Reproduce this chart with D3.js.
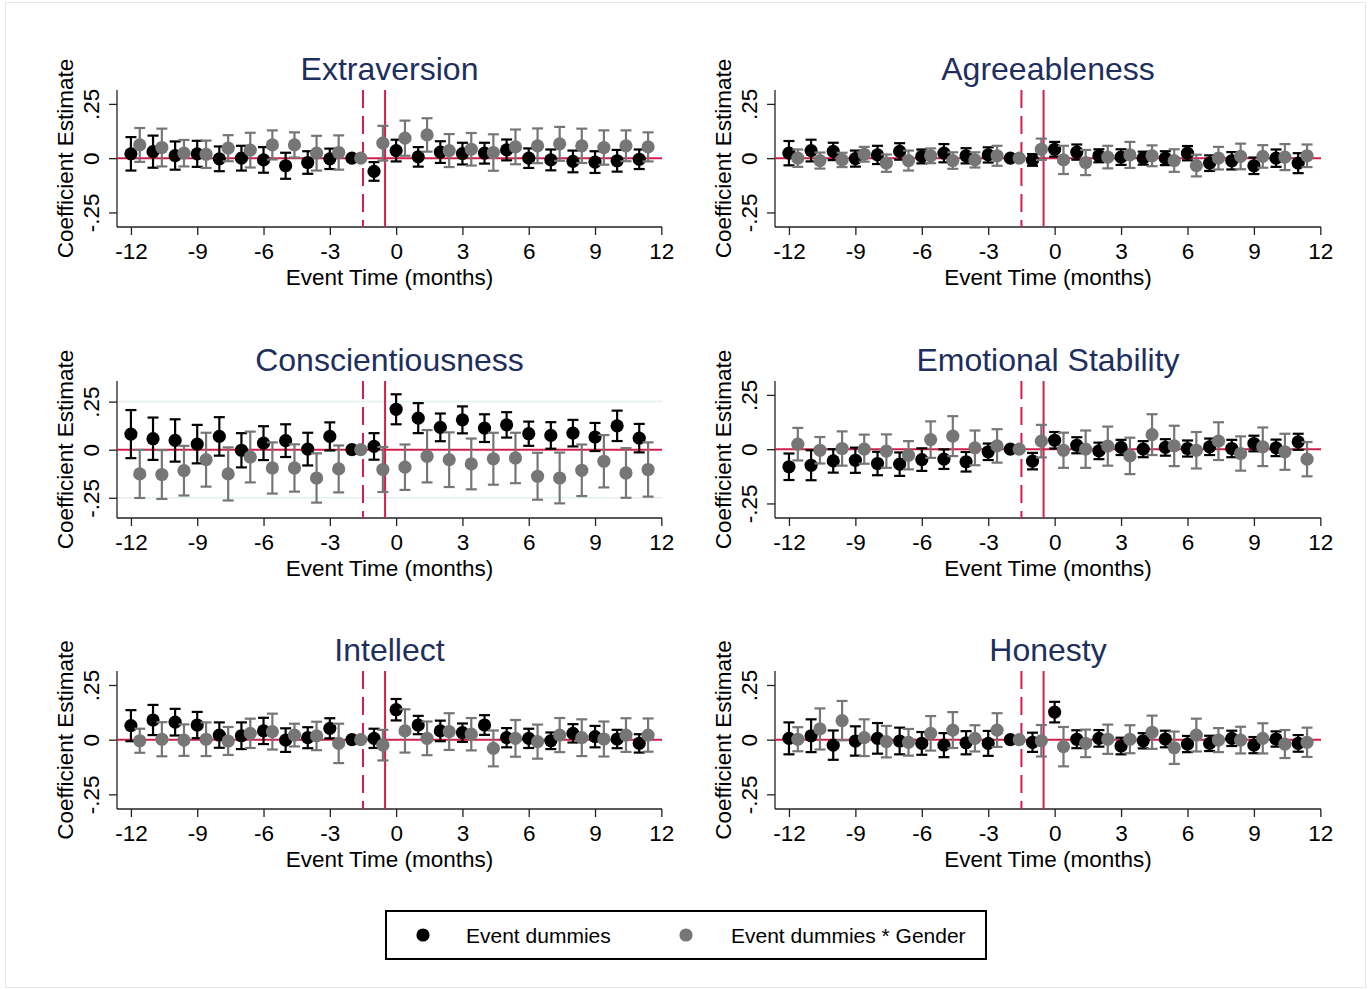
<!DOCTYPE html>
<html>
<head>
<meta charset="utf-8">
<script src="https://cdn.jsdelivr.net/npm/d3@7"></script>
<style>
  html, body { margin: 0; padding: 0; background: #fff; }
  svg { display: block; font-family: "Liberation Sans", Arial, Helvetica, sans-serif; }
</style>
</head>
<body>
<svg id="chart" width="1371" height="990"></svg>
<script>
// ---------- data ----------
const months = [-12,-11,-10,-9,-8,-7,-6,-5,-4,-3,-2,-1,0,1,2,3,4,5,6,7,8,9,10,11];
const xTicks = [-12,-9,-6,-3,0,3,6,9,12];
const xTickLabels = ["-12","-9","-6","-3","0","3","6","9","12"];
const yTicks = [-0.25, 0, 0.25];
const yTickLabels = ["-.25", "0", ".25"];
const titles = ["Extraversion","Agreeableness","Conscientiousness","Emotional Stability","Intellect","Honesty"];
const legendLabels = ["Event dummies", "Event dummies * Gender"];
const eventLines = [-1.5, -0.5];

// Extraversion
const extraBlack   = [0.02,0.03,0.012,0.02,-0.003,0.0,-0.008,-0.035,-0.02,-0.003,0,-0.061,0.035,0.006,0.028,0.021,0.023,0.038,0.0,-0.008,-0.015,-0.018,-0.012,-0.005];
const extraBlackCI = [0.077,0.074,0.065,0.06,0.057,0.057,0.059,0.06,0.052,0.047,null,0.043,0.05,0.045,0.05,0.05,0.048,0.048,0.045,0.048,0.05,0.05,0.05,0.045];
const extraGray    = [0.061,0.049,0.023,0.018,0.046,0.037,0.061,0.061,0.023,0.026,0,0.069,0.092,0.107,0.035,0.041,0.026,0.052,0.057,0.066,0.057,0.049,0.057,0.052];
const extraGrayCI  = [0.078,0.087,0.061,0.063,0.06,0.08,0.067,0.058,0.08,0.079,null,0.08,0.081,0.077,0.076,0.075,0.084,0.08,0.08,0.078,0.079,0.079,0.071,0.067];

// Agreeableness
const agreeBlack   = [0.023,0.035,0.031,-0.002,0.015,0.031,0.008,0.023,0.011,0.015,0,-0.008,0.041,0.028,0.011,0.005,0.0,0.0,0.023,-0.023,-0.012,-0.035,0.0,-0.023];
const agreeBlackCI = [0.056,0.05,0.04,0.037,0.042,0.038,0.032,0.042,0.035,0.035,null,0.027,0.034,0.035,0.03,0.036,0.03,0.032,0.033,0.036,0.04,0.038,0.04,0.046];
const agreeGray    = [0.0,-0.011,-0.008,0.018,-0.023,-0.011,0.011,-0.011,-0.008,0.011,0,0.041,-0.008,-0.02,0.005,0.015,0.011,-0.011,-0.034,0.0,0.008,0.008,0.005,0.011];
const agreeGrayCI  = [0.04,0.037,0.033,0.034,0.04,0.046,0.034,0.038,0.035,0.046,null,0.049,0.065,0.058,0.052,0.06,0.048,0.052,0.05,0.052,0.059,0.052,0.06,0.052];

// Conscientiousness
const consBlack    = [0.081,0.057,0.048,0.029,0.069,-0.003,0.034,0.047,0.003,0.069,0,0.017,0.21,0.164,0.116,0.155,0.112,0.129,0.083,0.074,0.086,0.066,0.124,0.06];
const consBlackCI  = [0.125,0.11,0.11,0.1,0.1,0.089,0.088,0.085,0.085,0.073,null,0.069,0.078,0.078,0.072,0.07,0.072,0.066,0.063,0.069,0.069,0.073,0.079,0.074];
const consGray     = [-0.126,-0.129,-0.109,-0.052,-0.126,-0.038,-0.095,-0.095,-0.147,-0.1,0,-0.103,-0.091,-0.034,-0.052,-0.074,-0.047,-0.043,-0.138,-0.147,-0.107,-0.06,-0.121,-0.103];
const consGrayCI   = [0.125,0.127,0.129,0.14,0.138,0.132,0.133,0.123,0.128,0.122,null,0.117,0.118,0.136,0.142,0.132,0.135,0.131,0.122,0.132,0.134,0.136,0.129,0.141];

// Emotional Stability
const emoBlack     = [-0.081,-0.074,-0.054,-0.051,-0.066,-0.069,-0.048,-0.046,-0.058,-0.012,0,-0.055,0.041,0.018,-0.008,0.008,0.0,0.008,0.003,0.011,0.003,0.026,0.006,0.034];
const emoBlackCI   = [0.061,0.069,0.054,0.058,0.054,0.054,0.052,0.045,0.045,0.038,null,0.038,0.038,0.037,0.038,0.035,0.037,0.038,0.037,0.038,0.04,0.036,0.038,0.037];
const emoGray      = [0.023,-0.005,0.003,0.0,-0.009,-0.028,0.044,0.06,0.006,0.015,0,0.037,-0.005,0.0,0.014,-0.031,0.067,0.015,-0.005,0.037,-0.02,0.011,-0.012,-0.046];
const emoGrayCI    = [0.075,0.061,0.079,0.067,0.077,0.065,0.084,0.092,0.08,0.077,null,0.075,0.081,0.086,0.09,0.084,0.094,0.093,0.084,0.087,0.079,0.089,0.083,0.079];

// Intellect
const intBlack     = [0.064,0.09,0.08,0.067,0.021,0.018,0.04,-0.002,0.009,0.052,0,0.006,0.137,0.067,0.04,0.032,0.067,0.009,0.006,-0.005,0.029,0.014,0.003,-0.017];
const intBlackCI   = [0.071,0.069,0.061,0.06,0.058,0.061,0.06,0.054,0.048,0.046,null,0.044,0.049,0.042,0.047,0.042,0.045,0.044,0.044,0.038,0.042,0.049,0.042,0.042];
const intGray      = [-0.005,0.002,-0.002,0.002,-0.006,0.029,0.037,0.021,0.017,-0.017,0,-0.025,0.04,0.006,0.037,0.025,-0.04,0.006,-0.009,0.021,0.009,0.003,0.021,0.021];
const intGrayCI    = [0.055,0.078,0.072,0.077,0.064,0.067,0.082,0.052,0.065,0.09,null,0.07,0.099,0.077,0.084,0.074,0.082,0.084,0.078,0.078,0.084,0.08,0.077,0.076];

// Honesty
const honBlack     = [0.006,0.018,-0.025,-0.006,0.006,-0.006,-0.017,-0.025,-0.014,-0.017,0,-0.012,0.126,0.002,0.006,-0.029,-0.005,0.003,-0.02,-0.017,0.006,-0.025,0.003,-0.017];
const honBlackCI   = [0.073,0.075,0.067,0.067,0.07,0.061,0.052,0.055,0.053,0.057,null,0.044,0.047,0.041,0.038,0.038,0.035,0.038,0.037,0.035,0.035,0.037,0.035,0.038];
const honGray      = [0.002,0.049,0.087,0.009,-0.009,-0.012,0.029,0.044,0.006,0.044,0,-0.005,-0.032,-0.017,0.002,0.002,0.034,-0.037,0.021,-0.002,-0.002,0.006,-0.02,-0.012];
const honGrayCI    = [0.055,0.094,0.09,0.084,0.072,0.061,0.079,0.082,0.06,0.077,null,0.072,0.09,0.063,0.067,0.064,0.076,0.074,0.075,0.055,0.061,0.069,0.064,0.067];

const blackSeries = [extraBlack, agreeBlack, consBlack, emoBlack, intBlack, honBlack];
const blackCIs    = [extraBlackCI, agreeBlackCI, consBlackCI, emoBlackCI, intBlackCI, honBlackCI];
const graySeries  = [extraGray, agreeGray, consGray, emoGray, intGray, honGray];
const grayCIs     = [extraGrayCI, agreeGrayCI, consGrayCI, emoGrayCI, intGrayCI, honGrayCI];
const yDomains    = [[-0.317,0.314],[-0.317,0.314],[-0.355,0.357],[-0.317,0.314],[-0.317,0.314],[-0.317,0.314]];
const gridPanels  = [false, false, true, false, false, false];

// ---------- layout / style ----------
const grayOffset = 0.4;
const xDomain = [-12.63, 12.03];
const colX = [[117, 662], [775, 1321]];
const rowY = [[90, 227], [381, 518], [671, 809]];
const RED = "#d11f4c", GRAY = "#767676", NAVY = "#1e2f5e", AXIS = "#222";
const R = 6.6, CAP = 5.5;
const AX_FS = 22.5, TITLE_FS = 32, LEG_FS = 21;

const svg = d3.select("#chart");
svg.append("rect").attr("x", 5.5).attr("y", 2.5).attr("width", 1360).attr("height", 985)
  .attr("fill", "none").attr("stroke", "#e6e6e6").attr("stroke-width", 1);

titles.forEach((title, p) => {
  const [x0, x1] = colX[p % 2];
  const [y0, y1] = rowY[Math.floor(p / 2)];
  const x = d3.scaleLinear().domain(xDomain).range([x0, x1]);
  const y = d3.scaleLinear().domain(yDomains[p]).range([y1, y0]);
  const g = svg.append("g");

  if (gridPanels[p]) {
    g.selectAll(".grid").data(yTicks.filter(t => t !== 0)).join("line")
      .attr("x1", x0).attr("x2", x1).attr("y1", d => y(d)).attr("y2", d => y(d))
      .attr("stroke", "#e4eef1").attr("stroke-width", 1.5);
  }

  const xAxis = g.append("g").attr("transform", `translate(0,${y1})`)
    .call(d3.axisBottom(x).tickValues(xTicks).tickSize(8).tickFormat((d, i) => xTickLabels[i]));
  xAxis.select(".domain").attr("stroke", AXIS).attr("stroke-width", 1.3).attr("d", `M${x0},0H${x1}`);
  xAxis.selectAll(".tick line").attr("stroke", AXIS).attr("stroke-width", 1.3);
  xAxis.selectAll(".tick text").attr("font-size", AX_FS).attr("fill", "#000")
    .attr("font-family", "'Liberation Sans', Arial, sans-serif").attr("dy", null).attr("y", 32);

  const yAxis = g.append("g").attr("transform", `translate(${x0},0)`)
    .call(d3.axisLeft(y).tickValues(yTicks).tickSize(8).tickFormat((d, i) => yTickLabels[i]));
  yAxis.select(".domain").attr("stroke", AXIS).attr("stroke-width", 1.3).attr("d", `M0,${y0}V${y1}`);
  yAxis.selectAll(".tick line").attr("stroke", AXIS).attr("stroke-width", 1.3);
  yAxis.selectAll(".tick text").attr("font-size", AX_FS).attr("fill", "#000")
    .attr("font-family", "'Liberation Sans', Arial, sans-serif")
    .attr("x", null).attr("dy", null).attr("text-anchor", "middle")
    .attr("transform", "translate(-18,0) rotate(-90)");

  g.append("text").attr("x", (x0 + x1) / 2).attr("y", y0 - 10).attr("text-anchor", "middle")
    .attr("font-size", TITLE_FS).attr("fill", NAVY).text(title);
  g.append("text").attr("transform", `translate(${x0 - 44},${(y0 + y1) / 2}) rotate(-90)`)
    .attr("text-anchor", "middle").attr("font-size", AX_FS).attr("fill", "#000").text("Coefficient Estimate");
  g.append("text").attr("x", (x0 + x1) / 2).attr("y", y1 + 58).attr("text-anchor", "middle")
    .attr("font-size", AX_FS).attr("fill", "#000").text("Event Time (months)");

  g.append("line").attr("x1", x0).attr("x2", x1).attr("y1", y(0)).attr("y2", y(0))
    .attr("stroke", RED).attr("stroke-width", 2);
  g.append("line").attr("x1", x(eventLines[0])).attr("x2", x(eventLines[0])).attr("y1", y0).attr("y2", y1)
    .attr("stroke", RED).attr("stroke-width", 2).attr("stroke-dasharray", "18,8");
  g.append("line").attr("x1", x(eventLines[1])).attr("x2", x(eventLines[1])).attr("y1", y0).attr("y2", y1)
    .attr("stroke", RED).attr("stroke-width", 2);

  const drawSeries = (vals, cis, off, color) => {
    const data = months.map((m, i) => ({ m: m + off, v: vals[i], c: cis[i] }));
    const withCI = data.filter(d => d.c !== null);
    const bars = g.append("g").attr("stroke", color).attr("stroke-width", 2.2).attr("fill", "none");
    bars.selectAll(".v").data(withCI).join("line")
      .attr("x1", d => x(d.m)).attr("x2", d => x(d.m)).attr("y1", d => y(d.v - d.c)).attr("y2", d => y(d.v + d.c));
    bars.selectAll(".t").data(withCI).join("line")
      .attr("x1", d => x(d.m) - CAP).attr("x2", d => x(d.m) + CAP).attr("y1", d => y(d.v + d.c)).attr("y2", d => y(d.v + d.c));
    bars.selectAll(".b").data(withCI).join("line")
      .attr("x1", d => x(d.m) - CAP).attr("x2", d => x(d.m) + CAP).attr("y1", d => y(d.v - d.c)).attr("y2", d => y(d.v - d.c));
    g.append("g").selectAll("circle").data(data).join("circle")
      .attr("cx", d => x(d.m)).attr("cy", d => y(d.v)).attr("r", R).attr("fill", color);
  };
  drawSeries(blackSeries[p], blackCIs[p], 0, "#000");
  drawSeries(graySeries[p], grayCIs[p], grayOffset, GRAY);
});

// legend
const lg = svg.append("g");
lg.append("rect").attr("x", 386).attr("y", 911).attr("width", 600).attr("height", 48)
  .attr("fill", "#fff").attr("stroke", "#000").attr("stroke-width", 2);
const legendColors = ["#000", GRAY];
const legendDotX = [423, 686];
const legendTextX = [466, 731];
legendLabels.forEach((lab, i) => {
  lg.append("circle").attr("cx", legendDotX[i]).attr("cy", 935).attr("r", R).attr("fill", legendColors[i]);
  lg.append("text").attr("x", legendTextX[i]).attr("y", 943).attr("font-size", LEG_FS).attr("fill", "#000").text(lab);
});
</script>
</body>
</html>
